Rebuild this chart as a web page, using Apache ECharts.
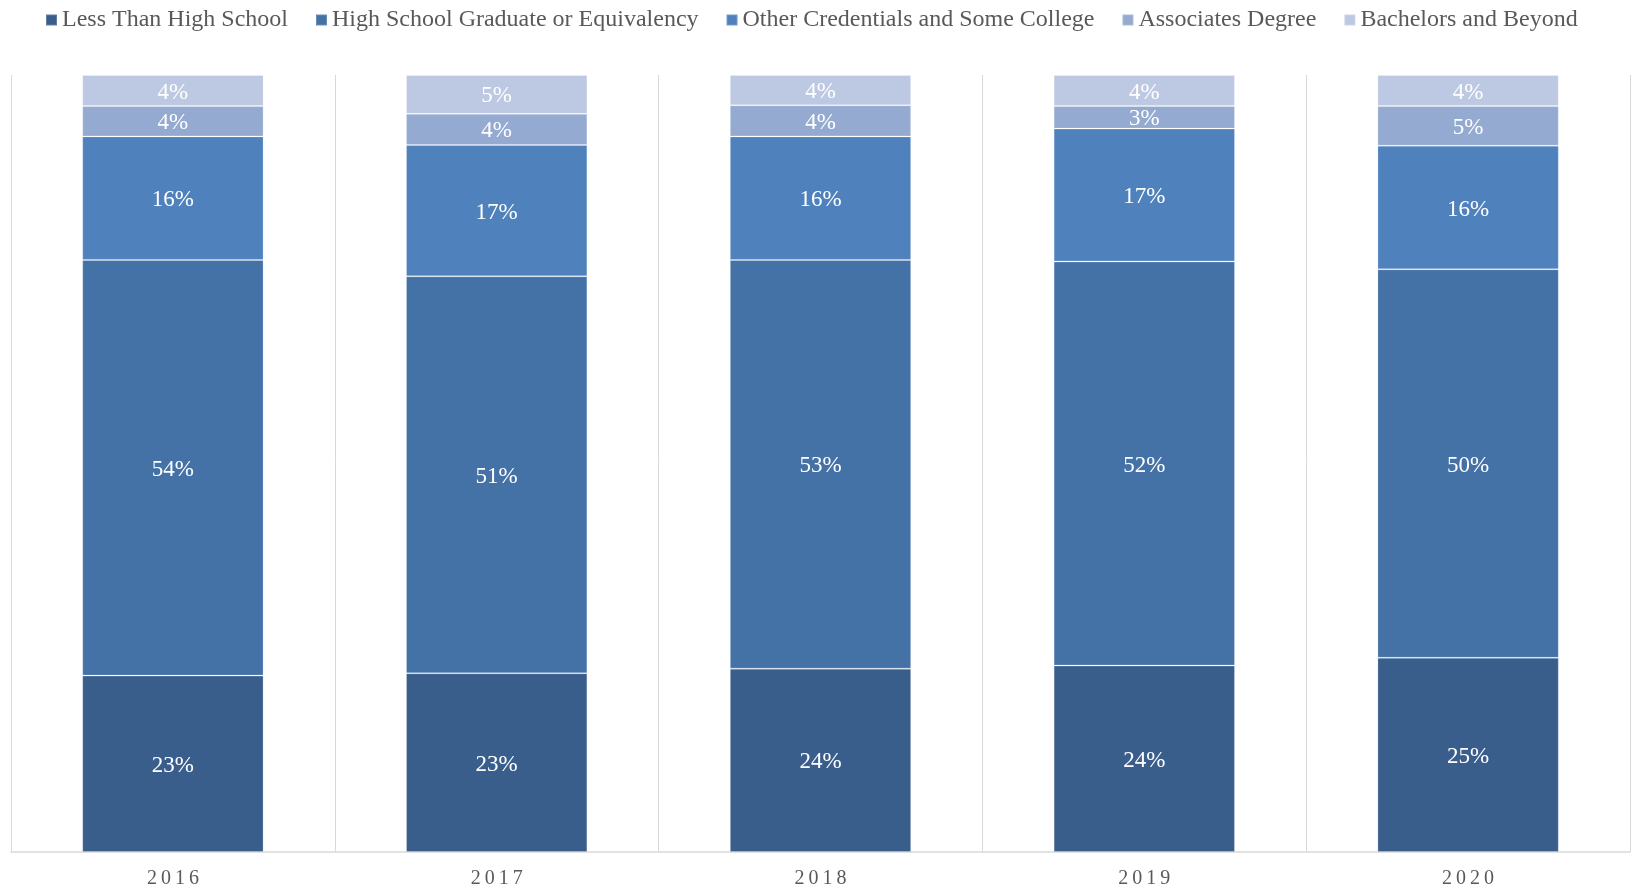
<!DOCTYPE html>
<html>
<head>
<meta charset="utf-8">
<style>
  html, body { margin: 0; padding: 0; background: #fff; }
  #chart { width: 1632px; height: 889px; }
</style>
<script src="https://cdn.jsdelivr.net/npm/echarts@6/dist/echarts.min.js"></script>
</head>
<body>
<div id="chart"></div>
<script>
const years = ['2016', '2017', '2018', '2019', '2020'];

const lessThanHS = [22.7, 23.0, 23.6, 24.0, 25.0];
const hsGraduate = [53.5, 51.1, 52.6, 52.0, 50.0];
const otherCredentials = [15.9, 16.9, 15.9, 17.1, 15.9];
const associates = [3.9, 4.0, 4.0, 2.9, 5.1];
const bachelors = [4.0, 5.0, 3.9, 4.0, 4.0];

const seriesNames = [
    'Less Than High School',
    'High School Graduate or Equivalency',
    'Other Credentials and Some College',
    'Associates Degree',
    'Bachelors and Beyond'
];
const colors = ['#3A5E8C', '#4472A6', '#4F81BD', '#95AAD0', '#BDC9E2'];

const chart = echarts.init(document.getElementById('chart'));
const font = '"Liberation Serif", "Times New Roman", serif';

// spaced out digits for the year labels
const spaced = s => s.split('').join('\u2009');

const dataSets = [lessThanHS, hsGraduate, otherCredentials, associates, bachelors];

const option = {
    animation: false,
    color: colors,
    textStyle: { fontFamily: font },
    legend: {
        top: 3,
        left: 40,
        itemWidth: 11,
        itemHeight: 11,
        itemGap: 27,
        icon: 'rect',
        textStyle: { fontFamily: font, fontSize: 24, color: '#595959' },
        data: seriesNames
    },
    grid: {
        left: 11,
        right: 2,
        top: 75,
        bottom: 33,
        containLabel: false
    },
    xAxis: {
        type: 'category',
        data: years,
        axisTick: { show: false },
        axisLine: { lineStyle: { color: '#D9D9D9', width: 1.5 } },
        splitLine: { show: true, lineStyle: { color: '#D9D9D9', width: 1 } },
        axisLabel: {
            margin: 17,
            fontFamily: font,
            fontSize: 20,
            color: '#595959',
            formatter: v => spaced(v)
        }
    },
    yAxis: {
        type: 'value',
        min: 0,
        max: 100,
        show: false
    },
    series: dataSets.map((d, i) => ({
        name: seriesNames[i],
        type: 'bar',
        stack: 'total',
        barWidth: '56%',
        data: d,
        itemStyle: {
            color: colors[i],
            borderColor: 'rgba(255,255,255,0.2)',
            borderWidth: 1
        },
        label: {
            show: true,
            position: 'inside',
            offset: [0, 2],
            color: '#fff',
            fontFamily: font,
            fontSize: 23,
            formatter: p => Math.round(p.value) + '%'
        }
    }))
};

chart.setOption(option);
</script>
</body>
</html>
